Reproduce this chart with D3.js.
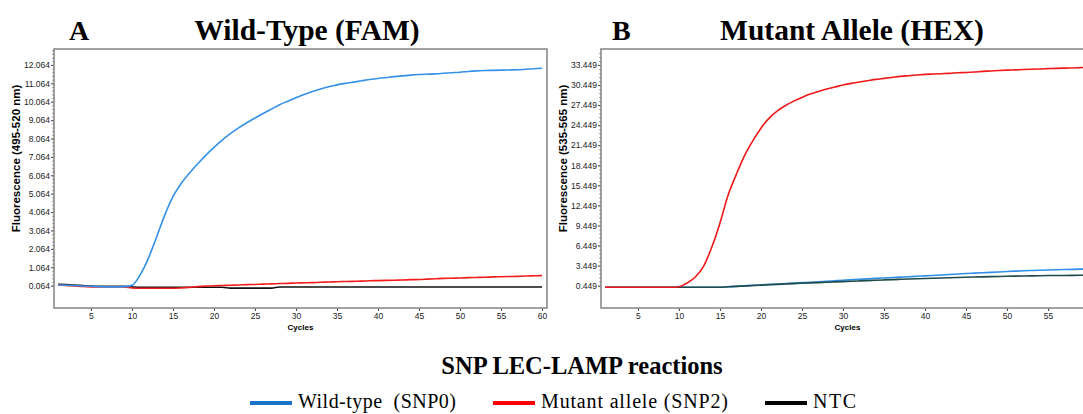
<!DOCTYPE html>
<html><head><meta charset="utf-8">
<script src="https://cdn.jsdelivr.net/npm/d3@7"></script>
<style>body{margin:0;background:#fff;} svg{display:block;}</style>
</head><body>
<svg id="c" width="1083" height="414"></svg>
<script>
const cycles = [1,2,3,4,5,6,7,8,9,10,11,12,13,14,15,16,17,18,19,20,21,22,23,24,25,26,27,28,29,30,31,32,33,34,35,36,37,38,39,40,41,42,43,44,45,46,47,48,49,50,51,52,53,54,55,56,57,58,59,60];
const xTicks = [5,10,15,20,25,30,35,40,45,50,55,60];
const famTicks = [0.064,1.064,2.064,3.064,4.064,5.064,6.064,7.064,8.064,9.064,10.064,11.064,12.064];
const hexTicks = [0.449,3.449,6.449,9.449,12.449,15.449,18.449,21.449,24.449,27.449,30.449,33.449];
// Panel A (FAM)
const famWild = [0.10,0.09,0.07,0.05,0.03,0.01,0.00,0.00,0.01,0.08,0.65,1.55,2.70,3.90,4.90,5.62,6.18,6.68,7.15,7.58,7.98,8.33,8.64,8.92,9.18,9.42,9.66,9.90,10.09,10.28,10.46,10.62,10.76,10.88,10.98,11.06,11.13,11.20,11.27,11.33,11.38,11.43,11.47,11.51,11.54,11.56,11.58,11.61,11.64,11.67,11.71,11.74,11.76,11.77,11.78,11.79,11.80,11.83,11.86,11.88];
const famMutant = [0.10,0.08,0.05,0.02,0.00,-0.01,-0.01,-0.01,-0.01,-0.06,-0.08,-0.08,-0.08,-0.08,-0.08,-0.06,-0.03,0.01,0.04,0.06,0.07,0.09,0.10,0.12,0.13,0.15,0.16,0.18,0.19,0.21,0.22,0.23,0.25,0.26,0.28,0.29,0.30,0.31,0.33,0.34,0.35,0.36,0.37,0.39,0.40,0.42,0.44,0.46,0.47,0.48,0.50,0.51,0.52,0.54,0.55,0.56,0.57,0.59,0.60,0.61];
const famNTC = [0.14,0.12,0.10,0.07,0.04,0.03,0.03,0.03,0.03,0.00,-0.02,-0.02,-0.02,-0.02,-0.02,-0.02,-0.02,-0.02,-0.02,-0.02,-0.02,-0.07,-0.07,-0.07,-0.07,-0.07,-0.07,-0.01,-0.01,-0.01,-0.01,-0.01,-0.01,-0.01,-0.01,-0.01,-0.01,-0.01,-0.01,-0.01,-0.01,-0.01,-0.01,-0.01,-0.01,-0.01,-0.01,-0.01,-0.01,-0.01,-0.01,-0.01,-0.01,-0.01,-0.01,-0.01,-0.01,-0.01,-0.01,-0.01];
// Panel B (HEX)
const hexWild = [0.21,0.21,0.21,0.21,0.21,0.21,0.21,0.21,0.21,0.21,0.21,0.21,0.21,0.21,0.22,0.28,0.35,0.42,0.50,0.57,0.64,0.71,0.78,0.84,0.90,0.97,1.04,1.11,1.18,1.26,1.33,1.40,1.47,1.54,1.60,1.66,1.72,1.79,1.85,1.91,1.98,2.05,2.12,2.19,2.26,2.32,2.38,2.44,2.50,2.56,2.62,2.68,2.72,2.76,2.80,2.83,2.86,2.89,2.92,2.95];
const hexMutant = [0.21,0.21,0.21,0.21,0.21,0.21,0.21,0.21,0.21,0.30,0.85,1.75,3.35,6.20,9.80,14.00,17.10,19.90,22.10,24.00,25.50,26.60,27.40,28.05,28.60,29.10,29.50,29.85,30.15,30.45,30.70,30.90,31.10,31.30,31.45,31.60,31.75,31.85,31.95,32.05,32.10,32.15,32.20,32.28,32.33,32.40,32.50,32.55,32.62,32.68,32.72,32.77,32.82,32.86,32.90,32.95,32.98,33.01,33.05,33.10];
const hexNTC = [0.21,0.21,0.21,0.21,0.21,0.21,0.21,0.21,0.21,0.21,0.21,0.21,0.21,0.21,0.22,0.28,0.34,0.40,0.47,0.53,0.59,0.65,0.70,0.76,0.81,0.86,0.91,0.96,1.01,1.06,1.11,1.16,1.21,1.26,1.31,1.36,1.40,1.44,1.48,1.52,1.56,1.60,1.64,1.68,1.71,1.74,1.77,1.80,1.83,1.86,1.88,1.90,1.92,1.94,1.96,1.97,1.98,1.99,2.00,2.01];
const legendLabels = ["Wild-type  (SNP0)", "Mutant allele (SNP2)", "NTC"];
const legendColors = ["#1a72c9", "#ff0000", "#000000"];

const W = 1083;
const svg = d3.select("#c");
svg.append("rect").attr("width",W).attr("height",414).attr("fill","#fff");

function panel(opts){
  const {left, top, w, h, yDomain, yTicks, series, ytitle, letter, lx, title, tx, id} = opts;
  const x = d3.scaleLinear().domain([0.5,60.6]).range([left, left+w]);
  const y = d3.scaleLinear().domain(yDomain).range([top+h, top]);
  const g = svg.append("g");
  g.append("clipPath").attr("id",id).append("rect").attr("x",left).attr("y",top).attr("width",w).attr("height",h);
  const yAx = g.append("g").attr("transform",`translate(${left},0)`)
    .call(d3.axisLeft(y).tickValues(yTicks).tickFormat(d3.format(".3f")).tickSize(3).tickPadding(1));
  const step = yTicks[1]-yTicks[0];
  const minor = [];
  for (let v = yTicks[0]; v < yDomain[1]; v += step/5) minor.push(v);
  g.append("g").attr("transform",`translate(${left},0)`)
    .call(d3.axisLeft(y).tickValues(minor.filter(v=>v>yDomain[0])).tickFormat("").tickSize(1.5))
    .call(s=>s.select(".domain").remove()).selectAll("line").attr("stroke","#555");
  const xAx = g.append("g").attr("transform",`translate(0,${top+h})`)
    .call(d3.axisBottom(x).tickValues(xTicks.filter(t=>x(t) < W-6)).tickSize(3).tickPadding(2));
  [yAx,xAx].forEach(a=>{
    a.select(".domain").remove();
    a.selectAll("text").attr("font-family","Liberation Sans, Arial, sans-serif").attr("font-size","8.5px").attr("fill","#222");
    a.selectAll("line").attr("stroke","#444");
  });
  g.append("rect").attr("x",left).attr("y",top).attr("width",w).attr("height",h)
    .attr("fill","none").attr("stroke","#8a8a8a").attr("stroke-width",1.6);
  const line = d3.line().x((d,i)=>x(cycles[i])).y(d=>y(d)).curve(d3.curveMonotoneX);
  const lg = g.append("g").attr("clip-path",`url(#${id})`);
  series.forEach(s=>{
    lg.append("path").datum(s.v).attr("d",line).attr("fill","none")
      .attr("stroke",s.c).attr("stroke-width",1.6).attr("stroke-linejoin","round");
  });
  g.append("text").attr("transform",`translate(${left-34},${top+h/2-20}) rotate(-90)`)
    .attr("text-anchor","middle").attr("font-family","Liberation Sans, Arial, sans-serif")
    .attr("font-weight","bold").attr("font-size","11.5px").attr("fill","#000").text(ytitle);
  g.append("text").attr("x",left+w/2).attr("y",top+h+22).attr("text-anchor","middle")
    .attr("font-family","Liberation Sans, Arial, sans-serif").attr("font-weight","bold")
    .attr("font-size","8px").text("Cycles");
  g.append("text").attr("x",lx).attr("y",40).attr("font-family","Liberation Serif, Times New Roman, serif")
    .attr("font-weight","bold").attr("font-size","28px").text(letter);
  g.append("text").attr("x",tx).attr("y",40).attr("text-anchor","middle").attr("font-family","Liberation Serif, Times New Roman, serif")
    .attr("font-weight","bold").attr("font-size","29.5px").text(title);
}

panel({left:54, top:49, w:493, h:259, yDomain:[-1.15,12.93], yTicks:famTicks, id:"clipA",
  series:[{v:famNTC,c:"#111111"},{v:famMutant,c:"#f21c1c"},{v:famWild,c:"#3491e9"}],
  ytitle:"Fluorescence (495-520 nm)", letter:"A", lx:69, title:"Wild-Type (FAM)", tx:307});
panel({left:601, top:49, w:493, h:259, yDomain:[-2.89,35.84], yTicks:hexTicks, id:"clipB",
  series:[{v:hexWild,c:"#2f8fe8"},{v:hexNTC,c:"#1e4a47"},{v:hexMutant,c:"#f01818"}],
  ytitle:"Fluorescence (535-565 nm)", letter:"B", lx:612, title:"Mutant Allele (HEX)", tx:852});

svg.append("text").attr("x",582).attr("y",374).attr("text-anchor","middle")
  .attr("font-family","Liberation Serif, Times New Roman, serif").attr("font-weight","bold")
  .attr("font-size","24.5px").text("SNP LEC-LAMP reactions");

const legX = [250, 493, 765];
const legW = [158, 187, 43];
const lgd = svg.append("g");
legendLabels.forEach((t,i)=>{
  lgd.append("line").attr("x1",legX[i]).attr("x2",legX[i]+42).attr("y1",403).attr("y2",403)
    .attr("stroke",legendColors[i]).attr("stroke-width",4);
  lgd.append("text").attr("x",legX[i]+48).attr("y",408).attr("font-family","Liberation Serif, Times New Roman, serif")
    .attr("font-size","20px").attr("fill","#000").attr("textLength",legW[i]).attr("lengthAdjust","spacing")
    .attr("xml:space","preserve").style("white-space","pre").text(t);
});
</script>
</body></html>
